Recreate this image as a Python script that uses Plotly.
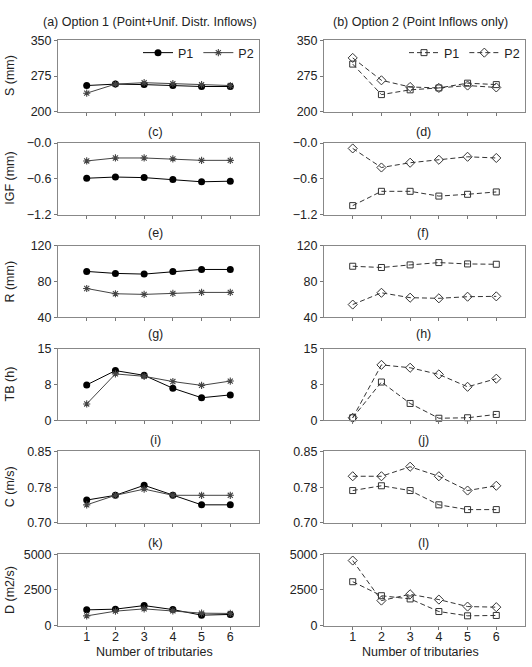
import plotly.graph_objects as go
from plotly.subplots import make_subplots

tributaries = [1, 2, 3, 4, 5, 6]

S_P1_opt1 = [255, 258, 257, 255, 253, 253]
S_P2_opt1 = [239, 258, 261, 259, 257, 255]
S_P1_opt2 = [300, 236, 246, 250, 260, 257]
S_P2_opt2 = [313, 266, 252, 250, 255, 251]

IGF_P1_opt1 = [-0.59, -0.57, -0.58, -0.61, -0.65, -0.64]
IGF_P2_opt1 = [-0.30, -0.25, -0.25, -0.265, -0.29, -0.29]
IGF_P1_opt2 = [-1.05, -0.81, -0.81, -0.89, -0.86, -0.82]
IGF_P2_opt2 = [-0.09, -0.41, -0.33, -0.28, -0.23, -0.25]

R_P1_opt1 = [91.4, 89.2, 88.4, 91.4, 93.6, 93.6]
R_P2_opt1 = [72.3, 66.4, 65.7, 66.8, 67.9, 67.9]
R_P1_opt2 = [97.2, 95.8, 98.7, 101.3, 99.8, 99.4]
R_P2_opt2 = [54.3, 67.5, 62.0, 61.3, 63.1, 63.5]

TB_P1_opt1 = [7.4, 10.4, 9.4, 6.7, 4.7, 5.3]
TB_P2_opt1 = [3.4, 9.7, 9.2, 8.1, 7.3, 8.2]
TB_P1_opt2 = [0.5, 8.0, 3.5, 0.4, 0.5, 1.2]
TB_P2_opt2 = [0.5, 11.6, 11.0, 9.6, 7.0, 8.7]

C_P1_opt1 = [0.748, 0.758, 0.779, 0.758, 0.738, 0.738]
C_P2_opt1 = [0.738, 0.758, 0.771, 0.758, 0.758, 0.758]
C_P1_opt2 = [0.768, 0.778, 0.768, 0.738, 0.728, 0.728]
C_P2_opt2 = [0.798, 0.798, 0.818, 0.798, 0.768, 0.778]

D_P1_opt1 = [1110, 1160, 1410, 1130, 740, 790]
D_P2_opt1 = [690, 1020, 1180, 1040, 880, 860]
D_P1_opt2 = [3080, 2100, 1875, 995, 694, 718]
D_P2_opt2 = [4560, 1760, 2200, 1830, 1340, 1300]

y_labels = ["S (mm)", "IGF (mm)", "R (mm)", "TB (h)", "C (m/s)", "D (m2/s)"]
panel_letters = [("(a) Option 1 (Point+Unif. Distr. Inflows)", "(b) Option 2 (Point Inflows only)"),
                 ("(c)", "(d)"), ("(e)", "(f)"), ("(g)", "(h)"), ("(i)", "(j)"), ("(k)", "(l)")]
y_ranges = [(200, 350), (-1.2, 0.0), (40, 120), (0, 15), (0.70, 0.85), (0, 5000)]
y_tickvals = [[200, 275, 350], [-1.2, -0.6, 0.0], [40, 80, 120], [0, 7.5, 15],
              [0.70, 0.775, 0.85], [0, 2500, 5000]]
y_ticktext = [["200", "275", "350"], ["\u22121.2", "\u22120.6", "\u22120.0"], ["40", "80", "120"],
              ["0", "8", "15"], ["0.70", "0.78", "0.85"], ["0", "2500", "5000"]]

opt1 = [(S_P1_opt1, S_P2_opt1), (IGF_P1_opt1, IGF_P2_opt1), (R_P1_opt1, R_P2_opt1),
        (TB_P1_opt1, TB_P2_opt1), (C_P1_opt1, C_P2_opt1), (D_P1_opt1, D_P2_opt1)]
opt2 = [(S_P1_opt2, S_P2_opt2), (IGF_P1_opt2, IGF_P2_opt2), (R_P1_opt2, R_P2_opt2),
        (TB_P1_opt2, TB_P2_opt2), (C_P1_opt2, C_P2_opt2), (D_P1_opt2, D_P2_opt2)]

W, H = 532, 667
FONT = "Liberation Sans, Arial, sans-serif"
col_px = [(58, 259), (324, 525)]
row_px = [(34, 107), (139, 212), (244, 317), (349, 422), (454, 527), (559, 632)]
title_y_px = [15, 128, 231, 334, 442, 547]
title_x_px = [(150, 420), (155, 423), (155, 423), (155, 423), (155, 423), (155, 423)]

fig = make_subplots(rows=6, cols=2)

for r in range(6):
    for c in range(2):
        first = (r == 0)
        if c == 0:
            p1, p2 = opt1[r]
            fig.add_trace(go.Scatter(x=tributaries, y=p1, name="P1", mode="lines+markers",
                                     line=dict(color="black", width=1),
                                     marker=dict(symbol="circle", size=7, color="black"),
                                     showlegend=first, legend="legend", cliponaxis=False),
                          row=r + 1, col=1)
            fig.add_trace(go.Scatter(x=tributaries, y=p2, name="P2", mode="lines+markers",
                                     line=dict(color="#444444", width=1),
                                     marker=dict(symbol="asterisk-open", size=6,
                                                 line=dict(color="#222222", width=1.1)),
                                     showlegend=first, legend="legend", cliponaxis=False),
                          row=r + 1, col=1)
        else:
            p1, p2 = opt2[r]
            fig.add_trace(go.Scatter(x=tributaries, y=p1, name="P1", mode="lines+markers",
                                     line=dict(color="#333333", width=1, dash="5px,3px"),
                                     marker=dict(symbol="square-open", size=6,
                                                 color="#333333", line=dict(width=1)),
                                     showlegend=first, legend="legend2", cliponaxis=False),
                          row=r + 1, col=2)
            fig.add_trace(go.Scatter(x=tributaries, y=p2, name="P2", mode="lines+markers",
                                     line=dict(color="#333333", width=1, dash="5px,3px"),
                                     marker=dict(symbol="diamond-open", size=7,
                                                 color="#333333", line=dict(width=1)),
                                     showlegend=first, legend="legend2", cliponaxis=False),
                          row=r + 1, col=2)

        idx = r * 2 + c + 1
        xa = "xaxis" if idx == 1 else f"xaxis{idx}"
        ya = "yaxis" if idx == 1 else f"yaxis{idx}"
        x0, x1 = col_px[c]
        t, b = row_px[r]
        fig.layout[xa].update(domain=[x0 / W, x1 / W], range=[0, 7],
                              tickvals=tributaries, ticktext=[str(v) for v in tributaries],
                              showticklabels=(r == 5), ticks="outside", ticklen=3,
                              ticklabelstandoff=-4,
                              tickcolor="#777777", showline=True, linecolor="#888888",
                              linewidth=1, mirror=True, showgrid=False, zeroline=False,
                              tickfont=dict(size=12.5, color="#222222", family=FONT))
        fig.layout[ya].update(domain=[1 - b / H, 1 - t / H], range=list(y_ranges[r]),
                              tickvals=y_tickvals[r], ticktext=y_ticktext[r],
                              ticks="outside", ticklen=3, tickcolor="#777777",
                              showline=True, linecolor="#888888", linewidth=1, mirror=True,
                              showgrid=False, zeroline=False,
                              tickfont=dict(size=12.5, color="#222222", family=FONT))
        fig.add_annotation(text=panel_letters[r][c], xref="paper", yref="paper",
                           x=title_x_px[r][c] / W, y=1 - title_y_px[r] / H,
                           xanchor="center", yanchor="middle", showarrow=False,
                           font=dict(size=12.5, color="#222222", family=FONT))
    fig.add_annotation(text=y_labels[r], xref="paper", yref="paper",
                       x=10 / W, y=1 - (row_px[r][0] + row_px[r][1]) / 2 / H,
                       textangle=-90, xanchor="center", yanchor="middle", showarrow=False,
                       font=dict(size=12.5, color="#222222", family=FONT))

for cx in [(154), (420)]:
    fig.add_annotation(text="Number of tributaries", xref="paper", yref="paper",
                       x=cx / W, y=1 - 659 / H, xanchor="center", yanchor="middle",
                       showarrow=False, font=dict(size=12.5, color="#222222", family=FONT))

leg_common = dict(orientation="h", bgcolor="rgba(0,0,0,0)", borderwidth=0,
                  font=dict(size=12.5, color="#222222", family=FONT),
                  xanchor="right", yanchor="middle", itemwidth=30, tracegroupgap=0)
fig.update_layout(
    width=W, height=H, margin=dict(l=0, r=0, t=0, b=0),
    paper_bgcolor="white", plot_bgcolor="white",
    font=dict(family=FONT, size=12.5, color="#222222"),
    legend=dict(x=259 / W, y=1 - 47 / H, **leg_common),
    legend2=dict(x=525 / W, y=1 - 47 / H, **leg_common),
)

fig.write_html("out.html")
